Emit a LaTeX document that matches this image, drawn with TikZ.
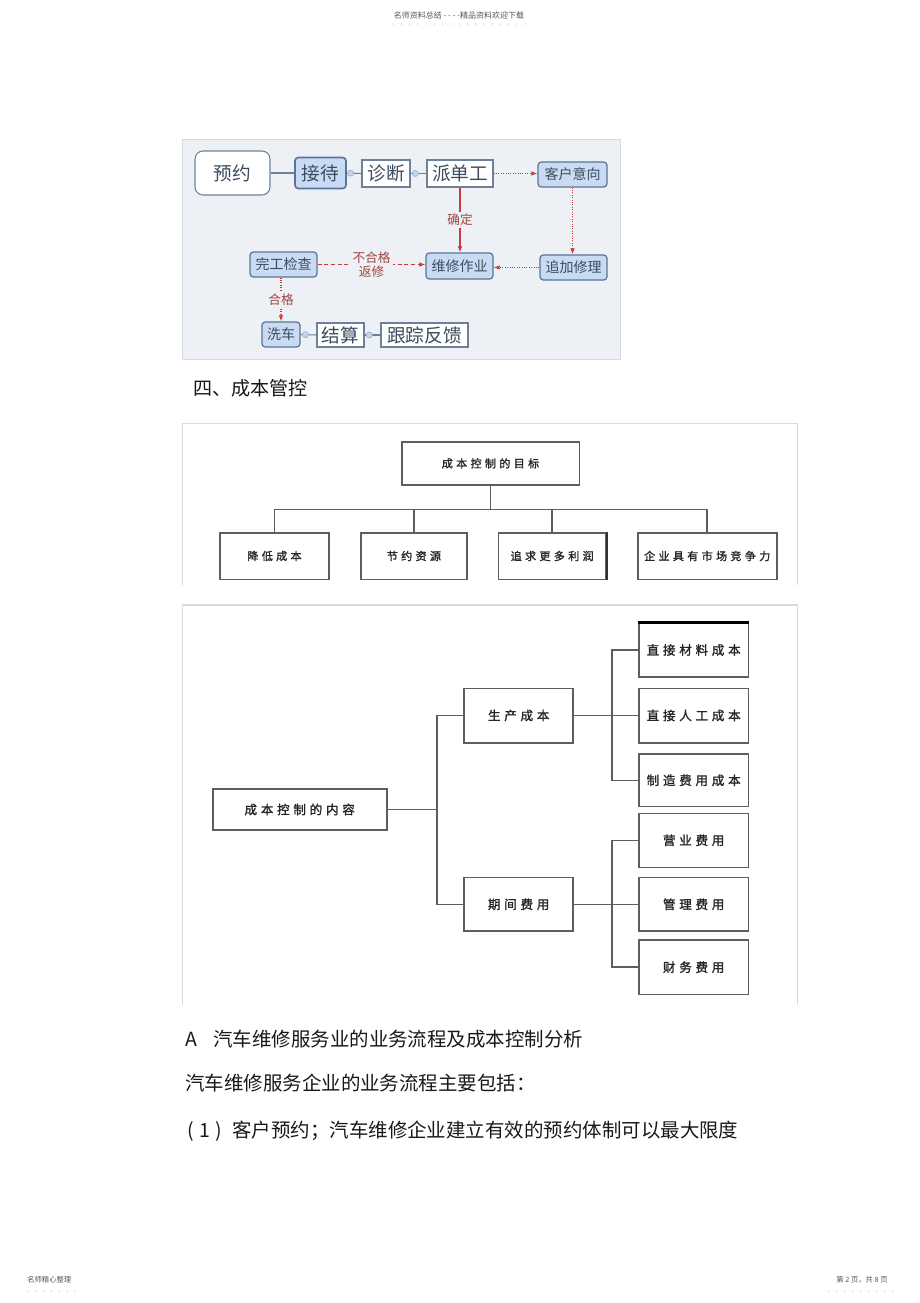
\documentclass[tikz,border=0pt]{standalone}
\usepackage{fontspec}
\usetikzlibrary{arrows.meta}
\newfontfamily\cjk{Noto Sans CJK SC}
\newfontfamily\cjksp[LetterSpace=30,FakeBold=1.5]{Noto Sans CJK SC}
\definecolor{fcbg}{HTML}{EDF0F5}
\definecolor{fcframe}{HTML}{D5DAE2}
\definecolor{fbf}{HTML}{C9DBF2}
\definecolor{fbb}{HTML}{5B7396}
\definecolor{fwb}{HTML}{6D819C}
\definecolor{ftx}{HTML}{3D4B5E}
\definecolor{fred}{HTML}{C43C3C}
\definecolor{flbl}{HTML}{A0453F}
\definecolor{glin}{HTML}{6F7F95}
\definecolor{dcf}{HTML}{C5D5EA}
\definecolor{dcb}{HTML}{9FB2CA}
\definecolor{cbd}{HTML}{5E5E5E}
\definecolor{frm}{HTML}{DADADA}
\definecolor{hdr}{HTML}{555555}
\begin{document}
\begin{tikzpicture}[x=0.75pt,y=-0.75pt,
  sz/.style 2 args={minimum width=#1*0.75pt, minimum height=#2*0.75pt},
  fw/.style={draw=fwb, fill=white, line width=0.8pt, inner sep=0pt, text=ftx},
  fb/.style={draw=fbb, fill=fbf, line width=0.9pt, rounded corners=2.5pt, inner sep=0pt, text=ftx},
  big/.style={font=\cjk\fontsize{14pt}{16pt}\selectfont},
  sml/.style={font=\cjk\fontsize{10.5pt}{12pt}\selectfont},
  gl/.style={draw=glin, line width=0.8pt},
  dotc/.style={circle, draw=dcb, fill=dcf, line width=0.5pt, inner sep=0pt, minimum size=4.5pt},
  ra/.style={draw=fred, line width=0.8pt, -{Latex[length=4.5pt,width=3.5pt]}},
  lbl/.style={fill=fcbg, text=flbl, inner sep=1.5pt, font=\cjk\fontsize{9.5pt}{11pt}\selectfont},
  frame/.style={draw=frm, line width=0.8pt},
  cb/.style={draw=cbd, fill=white, line width=1.2pt, inner sep=0pt, text=black!85},
  tb/.style={font=\cjksp\fontsize{8.3pt}{10pt}\selectfont},
  tc/.style={font=\cjksp\fontsize{9.4pt}{11pt}\selectfont},
  cl/.style={draw=cbd, line width=1.2pt},
  body/.style={inner sep=0pt, anchor=west, text=black!90, font=\cjk\fontsize{14.6pt}{17pt}\selectfont},
  tiny/.style={inner sep=0pt, text=hdr, font=\cjk\fontsize{6pt}{7pt}\selectfont}
]
\useasboundingbox (0,0) rectangle (920,1303);
\fill[white] (0,0) rectangle (920,1303);

% header and footer
\node[tiny] (hd) at (459,15) {名师资料总结 - - - -精品资料欢迎下载};
\foreach \i in {0,...,16} \fill[hdr!70] (393+8.25*\i,24) circle (0.5);
\node[tiny, anchor=west, font=\cjk\fontsize{5.5pt}{7pt}\selectfont] (ft1) at (27,1280) {名师精心整理};
\foreach \i in {0,...,6} \fill[hdr!70] (28+7.8*\i,1291) circle (0.5);
\node[tiny, anchor=east, font=\cjk\fontsize{5.5pt}{7pt}\selectfont] (ft2) at (888,1280) {第 2 页，共 8 页};
\foreach \i in {0,...,8} \fill[hdr!70] (829+8*\i,1291) circle (0.5);

% flowchart
\draw[draw=fcframe, fill=fcbg] (182,139) rectangle (620,359);
\node[fw, sz={75}{44}, rounded corners=6pt, big] (yy) at (232.5,173) {预约};
\node[fb, sz={51}{31}, big, line width=1.2pt] (jd) at (320.5,173) {接待};
\node[fw, sz={48}{27}, big] (zd) at (386,173.5) {诊断};
\node[fw, sz={66}{27}, big] (pd) at (460,173.5) {派单工};
\node[fb, sz={69}{25}, sml] (kh) at (572.5,174.5) {客户意向};
\node[fb, sz={67}{26}, sml] (wx) at (459.5,266) {维修作业};
\node[fb, sz={67}{25}, sml] (zj) at (573.5,267.5) {追加修理};
\node[fb, sz={67}{25}, sml] (wg) at (283.5,264.5) {完工检查};
\node[fb, sz={38}{25}, sml] (xc) at (281,334.5) {洗车};
\node[fw, sz={47}{24}, big] (js) at (340.5,335) {结算};
\node[fw, sz={87}{24}, big] (gz) at (424.5,335) {跟踪反馈};

\draw[gl] (yy) -- (jd);
\draw[gl] (jd.east) -- (zd.west) node[dotc, pos=0.25] (c1) {};
\draw[gl] (zd.west -| zd.east) -- (pd.west) node[dotc, pos=0.3] (c2) {};
\draw[gl] (xc.east) -- (js.west) node[dotc, pos=0.3] (c3) {};
\draw[gl] (js.east) -- (gz.west) node[dotc, pos=0.3] (c4) {};

\draw[ra, densely dotted] (pd.east) -- (pd.east -| kh.west);
\draw[ra] (pd.south) -- node[lbl] (l1) {确定} (pd.south |- wx.north);
\draw[ra, densely dotted] (kh.south) -- (kh.south |- zj.north);
\draw[ra, densely dotted] (zj.west) -- (zj.west -| wx.east);
\draw[ra, densely dashed] (wg.east) -- node[lbl, align=center] (l2) {不合格\\返修} (wg.east -| wx.west);
\draw[ra, densely dotted] (xc.north |- wg.south) -- node[lbl] (l3) {合格} (xc.north);

% heading
\node[body, font=\cjk\fontsize{14.3pt}{17pt}\selectfont] (h4) at (193,388) {四、成本管控};

% chart 2
\draw[frame] (182.7,585) -- (182.7,423.5) -- (797.3,423.5) -- (797.3,585);
\node[cb, sz={177.6}{43.3}, tb] (g0) at (490.5,463.4) {成本控制的目标};
\node[cb, sz={109}{46.6}, tb] (g1) at (274.5,556) {降低成本};
\node[cb, sz={105.7}{46.6}, tb] (g2) at (413.9,556) {节约资源};
\node[cb, sz={107.7}{46.6}, tb] (g3) at (552.2,556) {追求更多利润};
\node[cb, sz={139}{46.6}, tb] (g4) at (707.2,556) {企业具有市场竞争力};
\coordinate (gb) at (490.5,509.3);
\draw[cl] (g0.south) -- (gb);
\draw[cl] (g1.north) |- (gb) -| (g4.north);
\draw[cl] (g2.north) -- (g2.north |- gb);
\draw[cl] (g3.north) -- (g3.north |- gb);
\draw[draw=black!80, line width=1.6pt] (g3.north east) -- (g3.south east);

% chart 3
\draw[frame] (182.7,1005) -- (182.7,605) -- (797.3,605) -- (797.3,1005);
\node[cb, sz={174}{41}, tc] (n0) at (299.7,809.5) {成本控制的内容};
\node[cb, sz={109}{54.4}, tc] (n1) at (518.7,715.5) {生产成本};
\node[cb, sz={109}{53.3}, tc] (n2) at (518.7,904.3) {期间费用};
\node[cb, sz={109.3}{53.4}, tc] (a1) at (693.7,650) {直接材料成本};
\node[cb, sz={109.3}{54.4}, tc] (a2) at (693.7,715.5) {直接人工成本};
\node[cb, sz={109.3}{52.7}, tc] (a3) at (693.7,780.3) {制造费用成本};
\node[cb, sz={109.3}{54}, tc] (b1) at (693.7,840.3) {营业费用};
\node[cb, sz={109.3}{53.3}, tc] (b2) at (693.7,904.3) {管理费用};
\node[cb, sz={109.3}{54.3}, tc] (b3) at (693.7,967.2) {财务费用};
\draw[draw=black, line width=1.8pt] (a1.north west) -- (a1.north east);
\coordinate (m0) at (436.7,809.5);
\draw[cl] (n0.east) -- (m0);
\draw[cl] (n1.west) -| (m0) |- (n2.west);
\coordinate (m1) at (611.7,715.5);
\draw[cl] (n1.east) -- (a2.west);
\draw[cl] (a1.west) -| (m1) |- (a3.west);
\coordinate (m2) at (611.7,904.3);
\draw[cl] (n2.east) -- (b2.west);
\draw[cl] (b1.west) -| (m2) |- (b3.west);

% body text
\node[body] (ta) at (185,1039) {A};
\node[body] (t1) at (213,1039) {汽车维修服务业的业务流程及成本控制分析};
\node[body] (t2) at (185,1083) {汽车维修服务企业的业务流程主要包括：};
\node[body] (t3a) at (187,1131) {(\hspace{4pt}1\hspace{4pt})};
\node[body] (t3b) at (232,1131) {客户预约；汽车维修企业建立有效的预约体制可以最大限度};
\end{tikzpicture}
\end{document}
